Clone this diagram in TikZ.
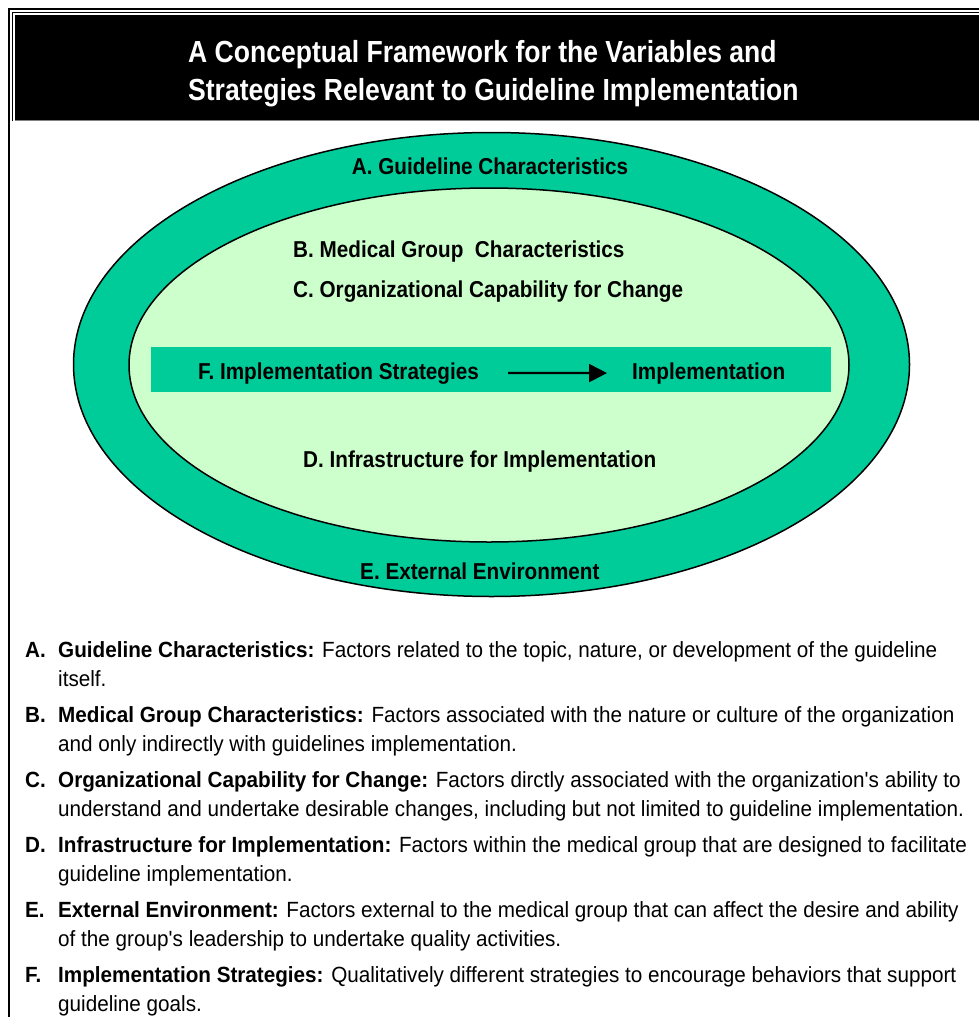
\documentclass[tikz,border=0pt]{standalone}
\usepackage{fontspec}
\setmainfont{Liberation Sans}
\newfontfamily\ttlfont{Liberation Sans}[FakeStretch=0.87]
\newfontfamily\labfont{Liberation Sans}[FakeStretch=0.9]
\newfontfamily\bodyfont{Liberation Sans}[FakeStretch=0.94]
\usetikzlibrary{arrows.meta}
\definecolor{tealg}{HTML}{00CC99}
\definecolor{mint}{HTML}{CCFFCC}
\begin{document}
\begin{tikzpicture}[x=1pt,y=-1pt,
  ttl/.style={text=white,font=\ttlfont\fontsize{30.5}{38}\selectfont\bfseries,inner sep=0pt,anchor=base west},
  lab/.style={font=\labfont\fontsize{23}{28}\selectfont\bfseries,inner sep=0pt,anchor=base west},
  key/.style={font=\bodyfont\fontsize{22}{29}\selectfont\bfseries,inner sep=0pt,anchor=base west},
  body/.style={font=\bodyfont\fontsize{22}{29}\selectfont,inner sep=0pt,anchor=base west},
  ring/.style={draw=black,line width=1.5pt},
  arr/.style={line width=2.2pt,-{Triangle[length=18pt,width=18pt]},shorten <=29pt,shorten >=25pt}]
\useasboundingbox (0,0) rectangle (978,1017);
\fill[white] (0,0) rectangle (978,1017);
% frame and title bar
\draw[line width=1.6pt] (9,1030) -- (9,9) -- (990,9);
\draw[line width=1pt] (12.5,121) -- (12.5,12.5) -- (990,12.5);
\fill[black] (14.5,14.5) rectangle (990,120);
\draw[gray,line width=0.8pt] (14.5,120.5) -- (990,120.5);
\node[ttl] (t1) at (188,62) {A Conceptual Framework for the Variables and};
\node[ttl] (t2) at (188,100) {Strategies Relevant to Guideline Implementation};
% ellipses
\draw[ring,fill=tealg] (491.5,364.5) ellipse [x radius=418, y radius=232];
\draw[ring,fill=mint] (489,365) ellipse [x radius=360, y radius=177];
\fill[tealg] (151,347) rectangle (831,392);
% labels
\node[lab,anchor=base] (A) at (490,174) {A. Guideline Characteristics};
\node[lab] (B) at (293,257) {B. Medical Group\ \ Characteristics};
\node[lab] (C) at (293,297) {C. Organizational Capability for Change};
\node[lab] (F) at (198,379) {F. Implementation Strategies};
\node[lab] (I) at (632,379) {Implementation};
\node[lab] (D) at (303,467) {D. Infrastructure for Implementation};
\node[lab] (E) at (360,579) {E. External Environment};
\draw[arr] (F.east) -- (I.west);
% list
\node[key] (kA) at (25,657) {A.};
\node[body] (lA1) at (58,657) {\textbf{Guideline Characteristics:} Factors related to the topic, nature, or development of the guideline};
\node[body] (lA2) at (58,686) {itself.};
\node[key] (kB) at (25,722) {B.};
\node[body] (lB1) at (58,722) {\textbf{Medical Group Characteristics:} Factors associated with the nature or culture of the organization};
\node[body] (lB2) at (58,751) {and only indirectly with guidelines implementation.};
\node[key] (kC) at (25,787) {C.};
\node[body] (lC1) at (58,787) {\textbf{Organizational Capability for Change:} Factors dirctly associated with the organization\textquotesingle s ability to};
\node[body] (lC2) at (58,816) {understand and undertake desirable changes, including but not limited to guideline implementation.};
\node[key] (kD) at (25,852) {D.};
\node[body] (lD1) at (58,852) {\textbf{Infrastructure for Implementation:} Factors within the medical group that are designed to facilitate};
\node[body] (lD2) at (58,881) {guideline implementation.};
\node[key] (kE) at (25,917) {E.};
\node[body] (lE1) at (58,917) {\textbf{External Environment:} Factors external to the medical group that can affect the desire and ability};
\node[body] (lE2) at (58,946) {of the group\textquotesingle s leadership to undertake quality activities.};
\node[key] (kF) at (25,982) {F.};
\node[body] (lF1) at (58,982) {\textbf{Implementation Strategies:} Qualitatively different strategies to encourage behaviors that support};
\node[body] (lF2) at (58,1011) {guideline goals.};
\end{tikzpicture}
\end{document}
